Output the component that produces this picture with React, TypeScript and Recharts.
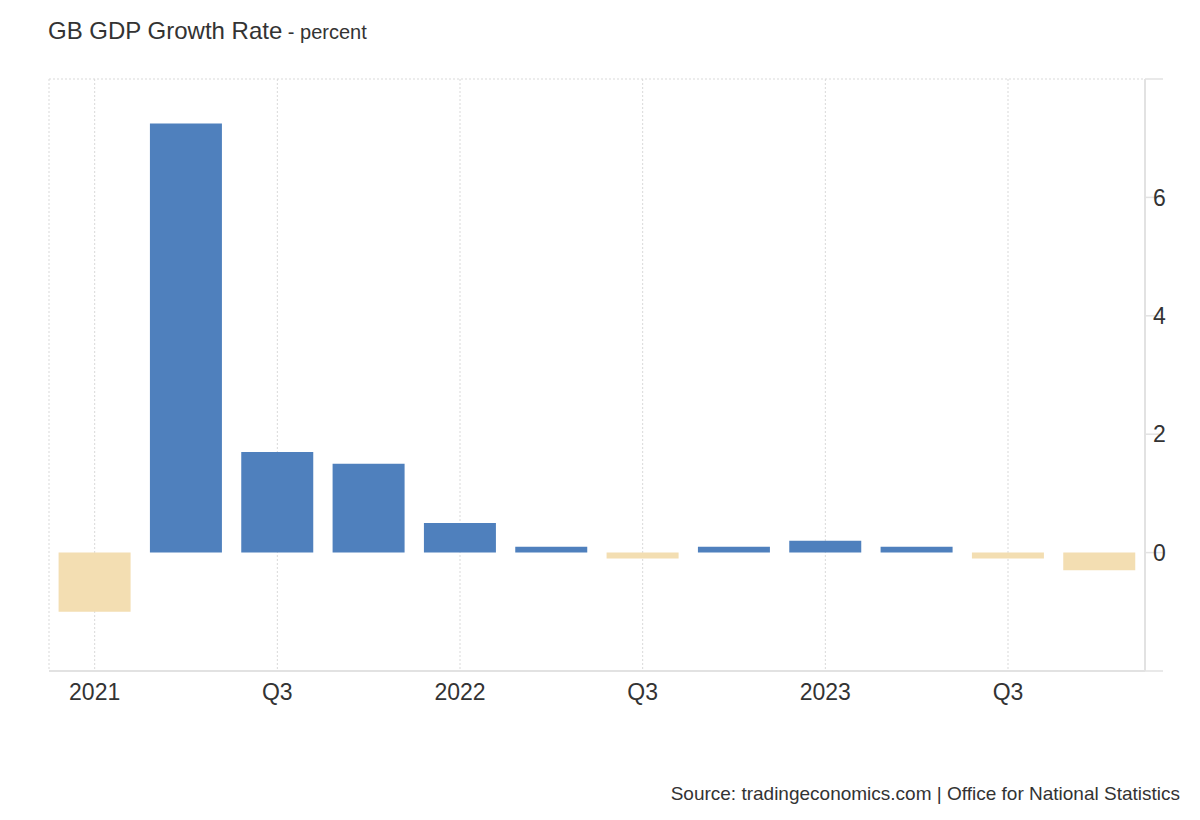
import React from "react";
import {
  BarChart,
  Bar,
  XAxis,
  YAxis,
  CartesianGrid,
  Cell,
} from "recharts";

const quarters = [
  "2021", "Q2", "Q3", "Q4",
  "2022", "Q2", "Q3", "Q4",
  "2023", "Q2", "Q3", "Q4",
];
const growth = [-1.0, 7.25, 1.7, 1.5, 0.5, 0.1, -0.1, 0.1, 0.2, 0.1, -0.1, -0.3];
const yTicks = [-2, 0, 2, 4, 6, 8];
const yLabels = [0, 2, 4, 6];

const POS = "#4f80bd";
const NEG = "#f3deb2";
const FONT = "Arial, 'Liberation Sans', sans-serif";
const AXIS = "#e2e2e2";

export default function App() {
  const data = quarters.map((q, i) => ({ id: i, label: q, value: growth[i] }));

  return (
    <div
      style={{
        position: "absolute",
        left: 0,
        top: 0,
        width: 1200,
        height: 820,
        background: "#fff",
        fontFamily: FONT,
        color: "#333",
      }}
    >
      <div style={{ position: "absolute", left: 48, top: 17, whiteSpace: "nowrap" }}>
        <span style={{ fontSize: 24 }}>GB GDP Growth Rate</span>
        <span style={{ fontSize: 20 }}> - percent</span>
      </div>

      <BarChart
        width={1200}
        height={820}
        data={data}
        margin={{ top: 79, right: 0, left: 49, bottom: 109 }}
        barCategoryGap="10.5%"
      >
        <CartesianGrid stroke="#d9d9d9" strokeDasharray="2 2" />
        <XAxis
          dataKey="id"
          tickFormatter={(i: number) => quarters[i]}
          interval={1}
          height={40}
          tickLine={false}
          tickSize={0}
          tickMargin={13}
          axisLine={{ stroke: AXIS, strokeWidth: 2 }}
          tick={{ fill: "#333", fontSize: 23, fontFamily: FONT }}
        />
        <YAxis
          yAxisId="l"
          orientation="left"
          width={0}
          domain={[-2, 8]}
          ticks={yTicks}
          tick={false}
          tickLine={false}
          axisLine={{ stroke: AXIS, strokeWidth: 2 }}
        />
        <YAxis
          yAxisId="r"
          orientation="right"
          width={55}
          domain={[-2, 8]}
          ticks={yTicks}
          interval={0}
          tickFormatter={(v: number) => (yLabels.includes(v) ? String(v) : "")}
          tickSize={18}
          tickMargin={-10}
          tickLine={{ stroke: AXIS, strokeWidth: 1.5 }}
          axisLine={{ stroke: AXIS, strokeWidth: 2 }}
          tick={{ fill: "#333", fontSize: 23, fontFamily: FONT }}
        />
        <Bar dataKey="value" yAxisId="r" isAnimationActive={false}>
          {data.map((d) => (
            <Cell key={d.id} fill={d.value < 0 ? NEG : POS} />
          ))}
        </Bar>
      </BarChart>

      <div
        style={{
          position: "absolute",
          right: 20,
          top: 783,
          fontSize: 19,
          whiteSpace: "nowrap",
        }}
      >
        Source: tradingeconomics.com | Office for National Statistics
      </div>
    </div>
  );
}
